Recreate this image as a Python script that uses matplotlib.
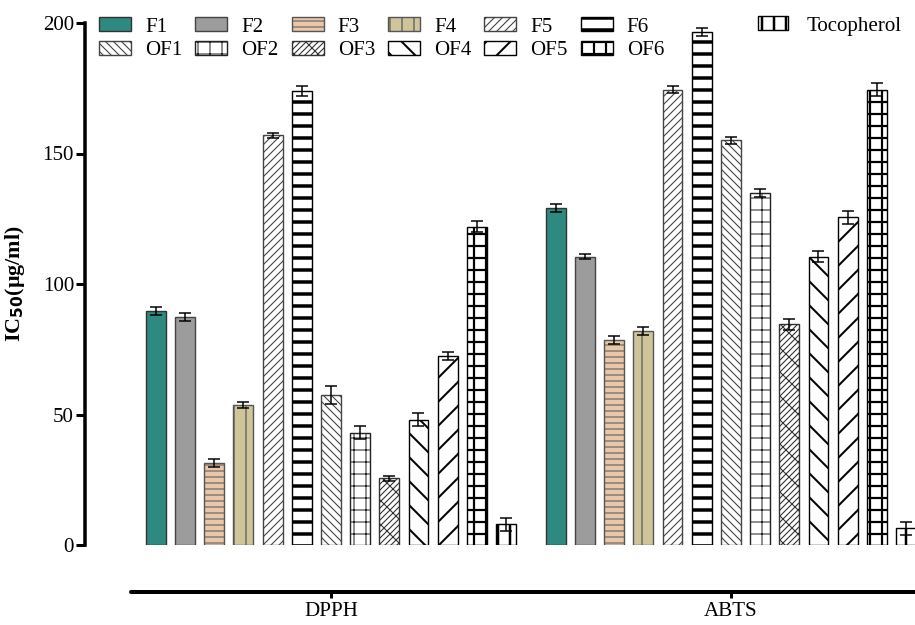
import matplotlib.pyplot as plt
import matplotlib.patches as mpatches
import numpy as np

plt.rcParams['font.family'] = ['Liberation Serif', 'DejaVu Serif']

# data (IC50, ug/ml)
samples = ['F1', 'F2', 'F3', 'F4', 'F5', 'F6',
           'OF1', 'OF2', 'OF3', 'OF4', 'OF5', 'OF6', 'Tocopherol']
assays = ['DPPH', 'ABTS']
dpph = [89.5, 87.5, 31.5, 53.5, 157, 174, 57.5, 43, 25.5, 48, 72.5, 122, 8]
dpph_err = [1.5, 1.5, 1.5, 1.2, 1, 2, 3.5, 2.5, 1, 2.5, 1.5, 2, 2.5]
abts = [129, 110.5, 78.5, 82, 174.5, 196.5, 155, 135, 84.5, 110.5, 125.5, 174.5, 6.5]
abts_err = [1.5, 1, 1.5, 1.5, 1.2, 1.5, 1.5, 1.5, 2, 2, 2.5, 2.5, 2.5]

# face, edge/hatch colour, hatch, hatch linewidth
styles = {
    'F1': ('#2e8a80', '#333333', None, 1),
    'F2': ('#9c9c9c', '#444444', None, 1),
    'F3': ('#e8c7aa', '#555555', '--', 1.0),
    'F4': ('#cfc49a', '#555555', '|', 1.2),
    'F5': ('white', '#444444', '///', 1.1),
    'F6': ('white', 'black', '-', 3.5),
    'OF1': ('white', '#444444', '\\\\\\', 1.1),
    'OF2': ('white', '#222222', '+', 1.0),
    'OF3': ('white', '#333333', '////\\', 1.1),
    'OF4': ('white', 'black', '\\', 2.0),
    'OF5': ('white', 'black', '/', 2.0),
    'OF6': ('white', 'black', '+', 2.2),
    'Tocopherol': ('white', 'black', '|', 2.5),
}


def set_hlw(patch, lw):
    if hasattr(patch, 'set_hatch_linewidth'):
        patch.set_hatch_linewidth(lw)


W, H, DPI = 915, 625, 72
fig = plt.figure(figsize=(W / DPI, H / DPI), dpi=DPI)
ax = fig.add_axes([85 / W, 80 / H, 1 - 85 / W, (545 - 23) / H])

gap = 13.71
width = 0.68
handles = {}
for i, name in enumerate(samples):
    face, edge, hatch, hlw = styles[name]
    xs = [i, gap + i]
    with plt.rc_context({'hatch.linewidth': hlw}):
        bars = ax.bar(xs, [dpph[i], abts[i]], width=width, color=face,
                      edgecolor=edge, hatch=hatch, linewidth=1.4)
        for b in bars:
            set_hlw(b, hlw)
        h = mpatches.Patch(facecolor=face, edgecolor=edge, hatch=hatch,
                           linewidth=1.4)
        set_hlw(h, hlw)
    handles[name] = h
    ax.errorbar(xs, [dpph[i], abts[i]], yerr=[dpph_err[i], abts_err[i]],
                fmt='none', ecolor='black', elinewidth=1.5, capsize=6,
                capthick=1.5, zorder=3)

ax.set_xlim(-2.43, 26.02)
ax.set_ylim(0, 200)
ax.set_yticks([0, 50, 100, 150, 200])
ax.set_xticks([6, gap + 6])
ax.set_xticklabels(assays)

for s in ['top', 'right']:
    ax.spines[s].set_visible(False)
ax.spines['left'].set_linewidth(3.5)
ax.spines['left'].set_bounds(0, 200)
ax.spines['bottom'].set_linewidth(4)
ax.spines['bottom'].set_capstyle('round')
ax.spines['bottom'].set_position(('outward', 47))
ax.spines['bottom'].set_bounds(-0.86, 26.02)

ax.tick_params(axis='y', length=9, width=3, labelsize=21, pad=2)
ax.tick_params(axis='x', length=6, width=3, labelsize=21, pad=4)

ax.set_ylabel(r'IC$_{\mathbf{50}}$(µg/ml)', fontsize=22, fontweight='bold',
              labelpad=6)
ax.yaxis.set_label_coords(-(85 - 27) / (W - 85), 0.5)

# two-row legend for fractions, separate entry for tocopherol
order = []
for a, b in zip(samples[:6], samples[6:12]):
    order += [a, b]
leg1 = fig.legend([handles[n] for n in order], order, ncol=6,
                  loc='upper left', bbox_to_anchor=(99 / W, 1 - 17 / H),
                  frameon=False, fontsize=21, handlelength=1.52,
                  handleheight=0.67, handletextpad=0.67, columnspacing=0.62,
                  labelspacing=0.2, borderpad=0, borderaxespad=0)
leg2 = fig.legend([handles['Tocopherol']], ['Tocopherol'], loc='upper left',
                  bbox_to_anchor=(758 / W, 1 - 16 / H), frameon=False,
                  fontsize=21, handlelength=1.45, handleheight=0.67,
                  handletextpad=0.85, borderpad=0, borderaxespad=0)
for leg, names in [(leg1, order), (leg2, ['Tocopherol'])]:
    for lh, n in zip(leg.legend_handles, names):
        set_hlw(lh, styles[n][3])

fig.savefig('out.png', dpi=DPI)
